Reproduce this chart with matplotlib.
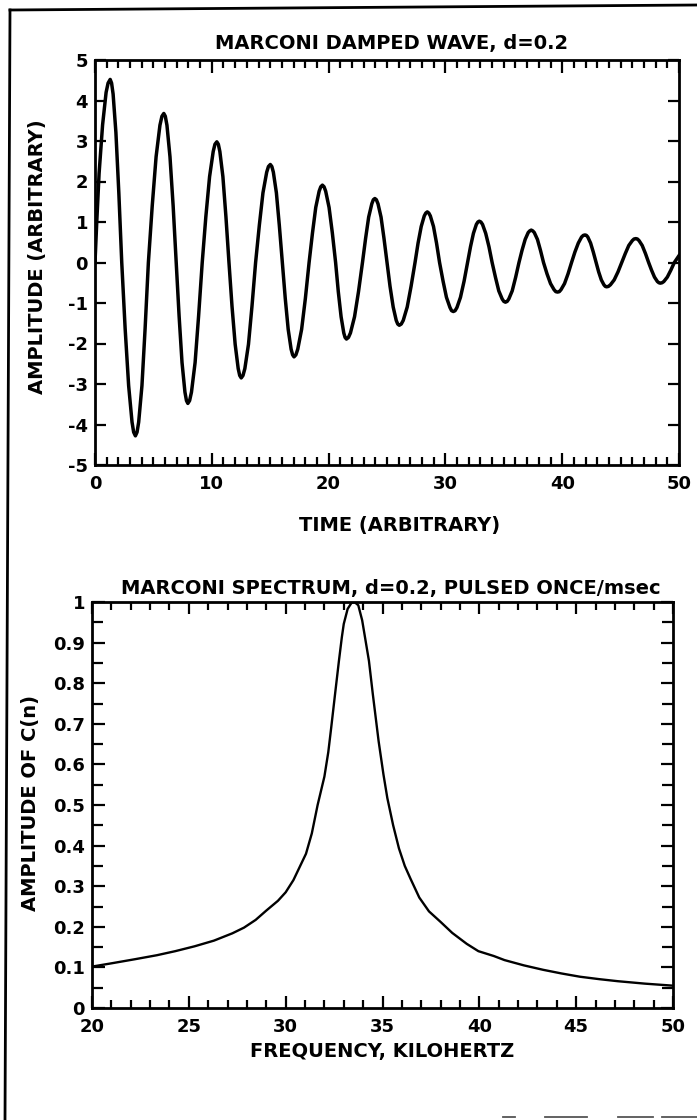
import matplotlib
matplotlib.use("Agg")
import matplotlib.pyplot as plt
from matplotlib.lines import Line2D

# damped wave, time vs amplitude (one row per half cycle)
wave_t = [
    0.00, 0.15, 0.35, 0.65, 0.95, 1.12, 1.30,
    1.42, 1.55, 1.79, 2.04, 2.29, 2.58, 2.88, 3.17, 3.31, 3.46,
    3.60, 3.74, 4.02, 4.29, 4.57, 4.90, 5.23, 5.56, 5.73, 5.89,
    6.02, 6.16, 6.42, 6.69, 6.95, 7.20, 7.45, 7.70, 7.83, 7.95,
    8.10, 8.26, 8.57, 8.87, 9.18, 9.49, 9.81, 10.12, 10.27, 10.43,
    10.56, 10.69, 10.95, 11.21, 11.47, 11.73, 12.00, 12.26, 12.39, 12.52,
    12.67, 12.83, 13.14, 13.44, 13.75, 14.07, 14.38, 14.70, 14.85, 15.01,
    15.14, 15.27, 15.53, 15.78, 16.04, 16.29, 16.54, 16.79, 16.92, 17.04,
    17.20, 17.36, 17.69, 18.01, 18.33, 18.62, 18.90, 19.19, 19.33, 19.47,
    19.61, 19.75, 20.04, 20.32, 20.60, 20.83, 21.07, 21.30, 21.41, 21.53,
    21.70, 21.87, 22.22, 22.56, 22.90, 23.17, 23.43, 23.70, 23.83, 23.96,
    24.09, 24.23, 24.49, 24.74, 25.00, 25.26, 25.53, 25.79, 25.92, 26.05,
    26.22, 26.39, 26.73, 27.06, 27.40, 27.66, 27.93, 28.19, 28.32, 28.45,
    28.58, 28.71, 28.98, 29.24, 29.50, 29.80, 30.09, 30.39, 30.53, 30.68,
    30.83, 30.99, 31.29, 31.60, 31.90, 32.15, 32.40, 32.65, 32.78, 32.90,
    33.04, 33.18, 33.45, 33.73, 34.00, 34.29, 34.57, 34.86, 35.00, 35.14,
    35.29, 35.43, 35.72, 36.01, 36.30, 36.56, 36.83, 37.09, 37.22, 37.35,
    37.48, 37.61, 37.88, 38.14, 38.40, 38.70, 39.00, 39.30, 39.45, 39.60,
    39.75, 39.90, 40.20, 40.50, 40.80, 41.09, 41.38, 41.66, 41.81, 41.95,
    42.07, 42.19, 42.43, 42.66, 42.90, 43.12, 43.35, 43.57, 43.69, 43.80,
    43.96, 44.13, 44.45, 44.78, 45.10, 45.40, 45.70, 46.00, 46.15, 46.30,
    46.44, 46.58, 46.85, 47.13, 47.40, 47.65, 47.90, 48.15, 48.28, 48.40,
    48.55, 48.70, 49.00, 49.30, 49.60, 50.00,
]
wave_amp = [
    0.00, 1.00, 2.20, 3.40, 4.20, 4.43, 4.52,
    4.43, 4.16, 3.21, 1.72, 0.00, -1.63, -3.04, -3.94, -4.19, -4.28,
    -4.19, -3.94, -3.04, -1.63, 0.00, 1.40, 2.61, 3.39, 3.61, 3.68,
    3.61, 3.39, 2.61, 1.40, 0.00, -1.32, -2.47, -3.20, -3.41, -3.48,
    -3.41, -3.20, -2.47, -1.32, 0.00, 1.13, 2.12, 2.74, 2.92, 2.98,
    2.92, 2.74, 2.12, 1.13, 0.00, -1.08, -2.02, -2.62, -2.79, -2.85,
    -2.79, -2.62, -2.02, -1.08, 0.00, 0.92, 1.72, 2.23, 2.37, 2.42,
    2.37, 2.23, 1.72, 0.92, 0.00, -0.89, -1.65, -2.14, -2.28, -2.33,
    -2.28, -2.14, -1.65, -0.89, 0.00, 0.73, 1.36, 1.76, 1.87, 1.91,
    1.87, 1.76, 1.36, 0.73, 0.00, -0.72, -1.34, -1.74, -1.85, -1.89,
    -1.85, -1.74, -1.34, -0.72, 0.00, 0.60, 1.12, 1.45, 1.55, 1.58,
    1.55, 1.45, 1.12, 0.60, 0.00, -0.59, -1.10, -1.43, -1.52, -1.55,
    -1.52, -1.43, -1.10, -0.59, 0.00, 0.48, 0.89, 1.15, 1.22, 1.25,
    1.22, 1.15, 0.89, 0.48, 0.00, -0.46, -0.86, -1.11, -1.19, -1.21,
    -1.19, -1.11, -0.86, -0.46, 0.00, 0.39, 0.72, 0.94, 1.00, 1.02,
    1.00, 0.94, 0.72, 0.39, 0.00, -0.37, -0.70, -0.90, -0.96, -0.98,
    -0.96, -0.90, -0.70, -0.37, 0.00, 0.30, 0.57, 0.74, 0.78, 0.80,
    0.78, 0.74, 0.57, 0.30, 0.00, -0.28, -0.52, -0.67, -0.72, -0.73,
    -0.72, -0.67, -0.52, -0.28, 0.00, 0.26, 0.48, 0.63, 0.67, 0.68,
    0.67, 0.63, 0.48, 0.26, 0.00, -0.23, -0.43, -0.55, -0.59, -0.60,
    -0.59, -0.55, -0.43, -0.23, 0.00, 0.22, 0.42, 0.54, 0.58, 0.59,
    0.58, 0.54, 0.42, 0.22, 0.00, -0.19, -0.36, -0.47, -0.50, -0.51,
    -0.50, -0.47, -0.36, -0.19, 0.00, 0.17,
]

# spectrum, kHz vs normalised |C(n)|
freq_khz = [20.0, 21.0, 22.2, 23.35, 24.3, 25.3, 26.3, 27.25, 27.85, 28.45,
            29.0, 29.6, 30.0, 30.4, 30.7, 31.05, 31.35, 31.65, 32.0, 32.2,
            32.35, 32.55, 32.75, 32.9, 33.0, 33.2, 33.4, 33.55, 33.75, 33.95,
            34.3, 34.5, 34.8, 35.05, 35.25, 35.55, 35.85, 36.15, 36.45, 36.9,
            37.4, 38.0, 38.6, 39.35, 39.95, 40.75, 41.3, 42.3, 43.3, 44.25,
            45.2, 46.2, 47.15, 48.55, 50.0]
spec_amp = [0.102, 0.110, 0.120, 0.130, 0.140, 0.152, 0.166, 0.184, 0.198, 0.217,
            0.240, 0.264, 0.285, 0.315, 0.345, 0.380, 0.430, 0.500, 0.570, 0.630,
            0.690, 0.773, 0.855, 0.913, 0.946, 0.983, 0.998, 1.000, 0.992, 0.955,
            0.855, 0.773, 0.657, 0.575, 0.517, 0.450, 0.393, 0.350, 0.318, 0.272,
            0.238, 0.212, 0.185, 0.158, 0.140, 0.128, 0.118, 0.105, 0.094, 0.085,
            0.077, 0.071, 0.066, 0.060, 0.055]

wave_yticks = [5, 4, 3, 2, 1, 0, -1, -2, -3, -4, -5]
wave_ylabels = ["5", "4", "3", "2", "1", "0", "-1", "-2", "-3", "-4", "-5"]
wave_xticks = [0, 10, 20, 30, 40, 50]
spec_yticks = [0, 0.1, 0.2, 0.3, 0.4, 0.5, 0.6, 0.7, 0.8, 0.9, 1.0]
spec_ylabels = ["0", "0.1", "0.2", "0.3", "0.4", "0.5", "0.6", "0.7", "0.8", "0.9", "1"]
spec_xticks = [20, 25, 30, 35, 40, 45, 50]

plt.rcParams["font.family"] = ["DejaVu Sans"]

W, H = 697, 1120
fig = plt.figure(figsize=(W / 100, H / 100), dpi=100)


def px_box(left, top, right, bottom):
    return [left / W, 1 - bottom / H, (right - left) / W, (bottom - top) / H]


def style_axes(ax, xmaj_len, xmin_len, ymaj_len, ymin_len):
    for s in ax.spines.values():
        s.set_linewidth(2.0)
    ax.tick_params(which="both", direction="in", top=True, right=True,
                   width=1.6, color="black")
    ax.tick_params(axis="x", which="major", length=xmaj_len, pad=7)
    ax.tick_params(axis="x", which="minor", length=xmin_len)
    ax.tick_params(axis="y", which="major", length=ymaj_len, pad=5)
    ax.tick_params(axis="y", which="minor", length=ymin_len)
    for lab in ax.get_xticklabels() + ax.get_yticklabels():
        lab.set_fontsize(13)
        lab.set_fontweight("bold")


TXT = dict(fontsize=14, fontweight="bold")

# --- damped wave ---
ax1 = fig.add_axes(px_box(95, 60, 679, 465))
ax1.plot(wave_t, wave_amp, color="black", lw=2.5, solid_joinstyle="round")
ax1.set_xlim(0, 50)
ax1.set_ylim(-5, 5)
ax1.set_xticks(wave_xticks)
ax1.set_xticks(range(0, 51), minor=True)
ax1.set_yticks(wave_yticks)
ax1.set_yticklabels(wave_ylabels)
style_axes(ax1, 9, 5.5, 8, 0)
ax1.set_title("MARCONI DAMPED WAVE, d=0.2", pad=8, x=0.507, **TXT)
ax1.set_xlabel("TIME (ARBITRARY)", **TXT)
ax1.xaxis.set_label_coords(0.522, -0.126)
ax1.set_ylabel("AMPLITUDE (ARBITRARY)", **TXT)
ax1.yaxis.set_label_coords(-0.082, 0.514)

# --- spectrum ---
ax2 = fig.add_axes(px_box(92, 602, 673, 1008))
ax2.plot(freq_khz, spec_amp, color="black", lw=1.7, solid_joinstyle="round")
ax2.set_xlim(20, 50)
ax2.set_ylim(0, 1)
ax2.set_xticks(spec_xticks)
ax2.set_xticks(range(20, 51), minor=True)
ax2.set_yticks(spec_yticks)
ax2.set_yticklabels(spec_ylabels)
ax2.set_yticks([v / 100 for v in range(0, 101, 5)], minor=True)
style_axes(ax2, 8.5, 5.5, 9, 8)
ax2.set_title("MARCONI SPECTRUM, d=0.2, PULSED ONCE/msec", pad=6, x=0.514, **TXT)
ax2.set_xlabel("FREQUENCY, KILOHERTZ", **TXT)
ax2.xaxis.set_label_coords(0.5, -0.084)
ax2.set_ylabel("AMPLITUDE OF C(n)", **TXT)
ax2.yaxis.set_label_coords(-0.0895, 0.505)

# page frame from the scanned sheet
def page_line(x0, y0, x1, y1, lw=2.0, color="black"):
    fig.add_artist(Line2D([x0 / W, x1 / W], [1 - y0 / H, 1 - y1 / H],
                          transform=fig.transFigure, color=color, lw=lw))

page_line(10, 10, 5, 1120)
page_line(10, 10, 697, 5)
for x0, x1 in [(503, 515), (545, 587), (618, 653), (662, 697)]:
    page_line(x0, 1117, x1, 1117, lw=1.3, color="#555555")

fig.savefig("out.png", dpi=100)
